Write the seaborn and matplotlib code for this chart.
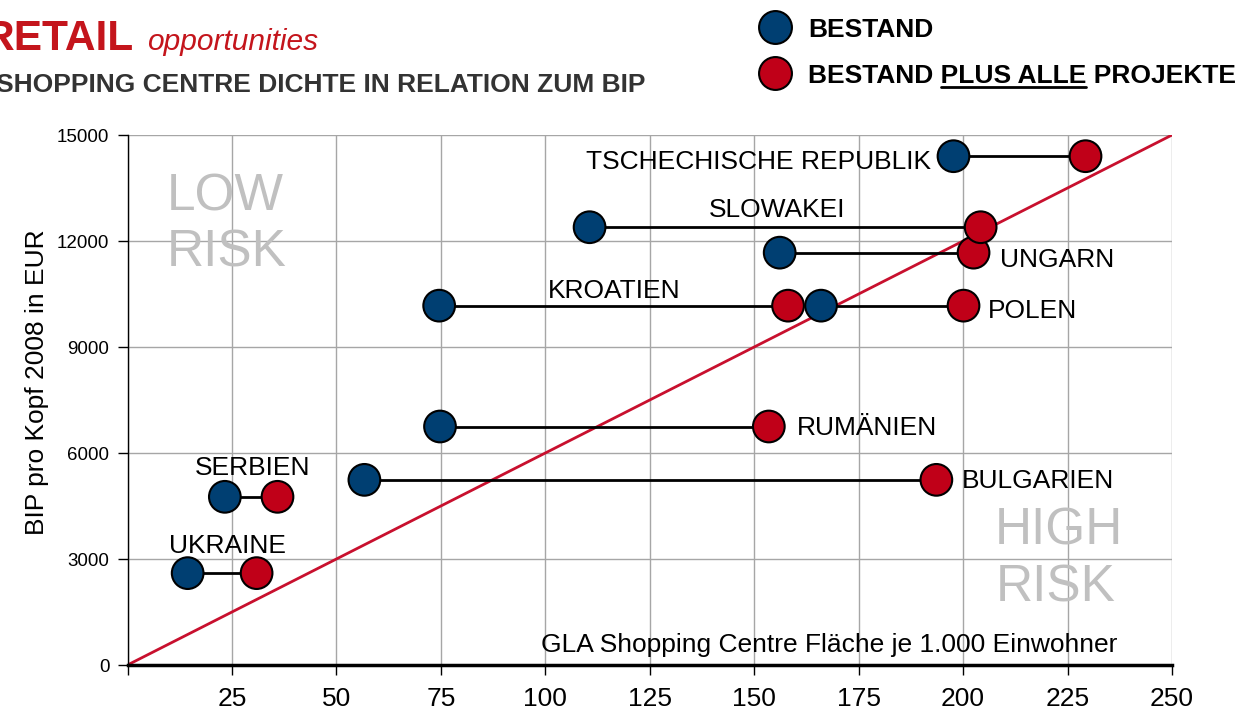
import pandas as pd
import seaborn as sns
import matplotlib.pyplot as plt
from matplotlib.lines import Line2D

# data
countries = ["TSCHECHISCHE REPUBLIK", "UNGARN", "SLOWAKEI", "KROATIEN", "POLEN",
             "RUMÄNIEN", "BULGARIEN", "SERBIEN", "UKRAINE"]
bestand = [197.7, 156.1, 110.6, 74.6, 166.0, 74.8, 56.7, 23.3, 14.4]
bestand_plus = [229.3, 202.5, 204.2, 158.1, 200.1, 153.5, 193.6, 35.9, 30.9]
bip_2008 = [14400, 11670, 12390, 10170, 10170, 6750, 5240, 4760, 2600]

x_ticks = list(range(0, 251, 25))
y_ticks = list(range(0, 15001, 3000))
diag_slope = 60  # BIP per unit of GLA on the risk line

# label placement (x, y baseline, alignment)
label_pos = {
    "TSCHECHISCHE REPUBLIK": (192.2, 14038, "right"),
    "UNGARN": (208.9, 11264, "left"),
    "SLOWAKEI": (139.2, 12679, "left"),
    "KROATIEN": (100.7, 10387, "left"),
    "POLEN": (205.9, 9821, "left"),
    "RUMÄNIEN": (160.1, 6509, "left"),
    "BULGARIEN": (199.6, 5018, "left"),
    "SERBIEN": (16.1, 5377, "left"),
    "UKRAINE": (10.0, 3170, "left"),
}

BLUE = "#003F72"
RED = "#C00018"
LINE_RED = "#C8102E"
TITLE_RED = "#C4151C"
GRID = "#A6A6A6"
RISK_GRAY = "#C0C0C0"

sns.set_theme(style="white")
plt.rcParams["font.family"] = ["Liberation Sans", "DejaVu Sans"]

W, H = 1258, 713
fig = plt.figure(figsize=(W / 100, H / 100), dpi=100)
ax = fig.add_axes([127.5 / W, 48 / H, 1044.5 / W, 530 / H])


def fx(px):
    return px / W


def fy(py):
    return 1 - py / H


df = pd.DataFrame({
    "land": countries * 2,
    "gla": bestand + bestand_plus,
    "bip": bip_2008 * 2,
    "serie": ["BESTAND"] * len(countries) + ["BESTAND PLUS ALLE PROJEKTE"] * len(countries),
})

# risk line and connectors
ax.plot([x_ticks[0], x_ticks[-1]], [x_ticks[0] * diag_slope, x_ticks[-1] * diag_slope],
        color=LINE_RED, lw=2, zorder=2)
ax.hlines(bip_2008, bestand, bestand_plus, color="black", lw=2, zorder=3)

sns.scatterplot(data=df, x="gla", y="bip", hue="serie", palette=[BLUE, RED],
                s=520, edgecolor="black", linewidth=1.5, legend=False, zorder=4, ax=ax)

for land in countries:
    lx, ly, ha = label_pos[land]
    ax.text(lx, ly, land, ha=ha, va="baseline", fontsize=19, color="black", zorder=5)

# risk zones
ax.text(9.4, 12857, "LOW", fontsize=37, color=RISK_GRAY, va="baseline", zorder=1)
ax.text(9.4, 11273, "RISK", fontsize=37, color=RISK_GRAY, va="baseline", zorder=1)
ax.text(207.5, 3424, "HIGH", fontsize=37, color=RISK_GRAY, va="baseline", zorder=1)
ax.text(207.8, 1792, "RISK", fontsize=37, color=RISK_GRAY, va="baseline", zorder=1)

ax.text(237, 376, "GLA Shopping Centre Fläche je 1.000 Einwohner", ha="right",
        va="baseline", fontsize=19, color="black", zorder=5)

# axes styling
ax.set_xlim(x_ticks[0], x_ticks[-1])
ax.set_ylim(y_ticks[0], y_ticks[-1])
ax.set_xticks(x_ticks)
ax.set_xticklabels([""] + [str(v) for v in x_ticks[1:]])
ax.set_yticks(y_ticks)
ax.set_yticklabels([str(v) for v in y_ticks])
ax.tick_params(axis="x", direction="out", length=7, width=1, color="black",
               labelsize=19, pad=9, labelcolor="black", bottom=True)
ax.tick_params(axis="y", direction="out", length=7, width=1, color="black",
               labelsize=13.5, pad=6, labelcolor="black", left=True)
ax.grid(True, color=GRID, lw=1)
ax.set_axisbelow(True)
ax.set_xlabel("")
ax.set_ylabel("")
for side in ["top", "right"]:
    ax.spines[side].set_visible(False)
ax.spines["left"].set_color("black")
ax.spines["left"].set_linewidth(1)
ax.spines["bottom"].set_color("black")
ax.spines["bottom"].set_linewidth(2.5)
ax.spines["left"].set_zorder(6)
ax.spines["bottom"].set_zorder(6)

ax.text(-0.087, 0.533, "BIP pro Kopf 2008 in EUR", transform=ax.transAxes,
        rotation=90, ha="center", va="center", fontsize=19, color="black")

# title block
fig.text(fx(133), fy(50), "RETAIL", ha="right", va="baseline", fontsize=30.5,
         fontweight="bold", color=TITLE_RED)
fig.text(fx(147), fy(50), "opportunities", ha="left", va="baseline", fontsize=21.5,
         fontstyle="italic", color=TITLE_RED)
fig.text(fx(-4), fy(92), "SHOPPING CENTRE DICHTE IN RELATION ZUM BIP", ha="left",
         va="baseline", fontsize=19, fontweight="bold", color="#333333")

# legend
for cy, col in [(27, BLUE), (73, RED)]:
    ax.scatter([fx(775)], [fy(cy)], transform=fig.transFigure, clip_on=False,
               s=560, color=col, edgecolor="black", linewidth=1.5, zorder=10)
fig.text(fx(808), fy(37), "BESTAND", ha="left", va="baseline", fontsize=19,
         fontweight="bold", color="black")
fig.text(fx(808), fy(83), "BESTAND PLUS ALLE PROJEKTE", ha="left", va="baseline",
         fontsize=19, fontweight="bold", color="black")

# underline "PLUS ALLE"
fig.canvas.draw()
renderer = fig.canvas.get_renderer()


def text_width(s):
    t = fig.text(0, 0, s, fontsize=19, fontweight="bold")
    w = t.get_window_extent(renderer).width
    t.remove()
    return w


w_all = text_width("BESTAND PLUS ALLE")
w_part = text_width("PLUS ALLE")
x_end = 808 + w_all
x_start = x_end - w_part
fig.add_artist(Line2D([fx(x_start), fx(x_end)], [fy(87), fy(87)], color="black",
                      lw=2, transform=fig.transFigure))

fig.savefig("out.png", dpi=100)
